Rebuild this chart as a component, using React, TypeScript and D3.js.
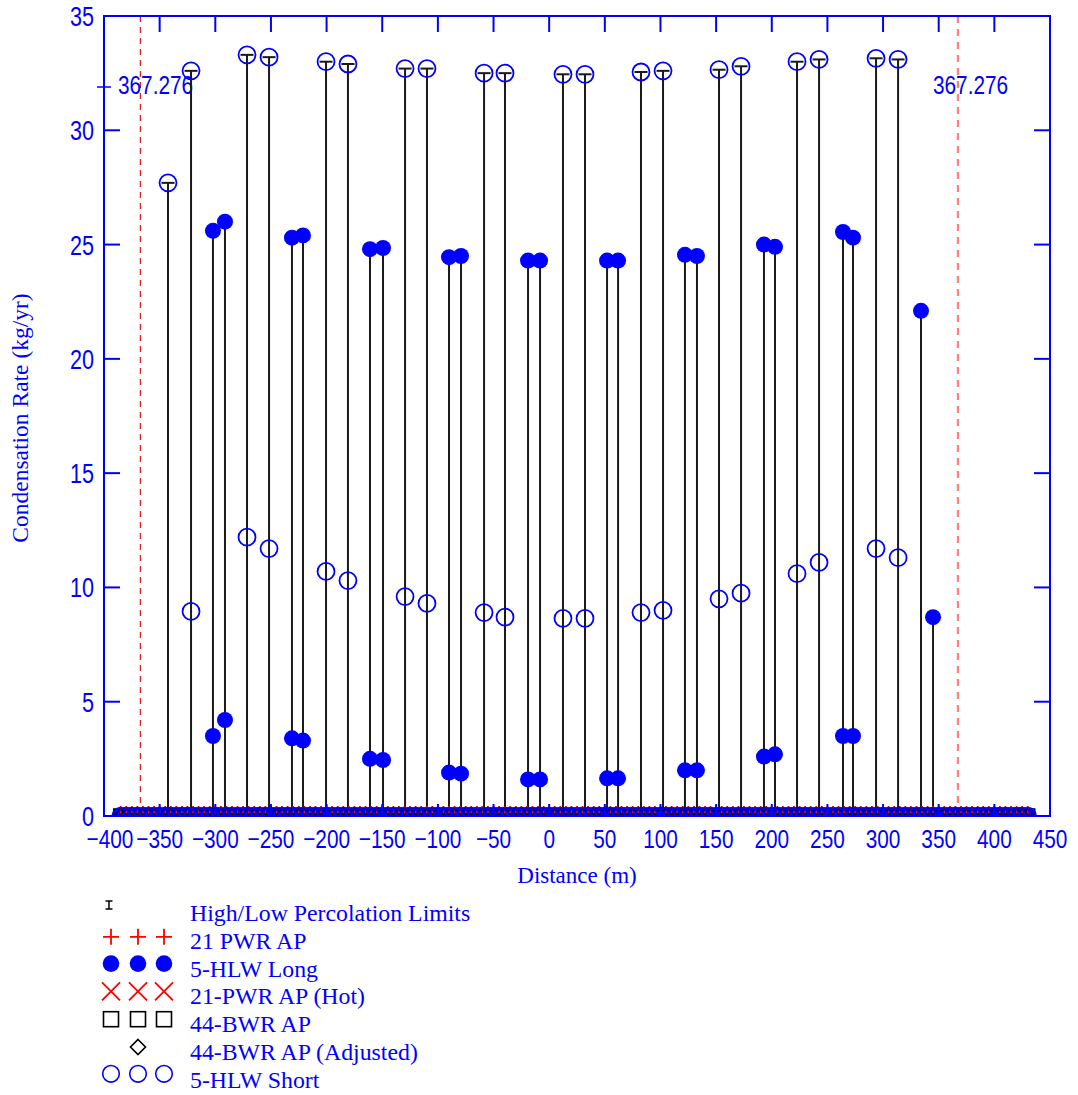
import React from "react";
import * as d3 from "d3";

// ---------- data ----------
const X_TICKS = [-400, -350, -300, -250, -200, -150, -100, -50, 0, 50, 100, 150, 200, 250, 300, 350, 400, 450];
const Y_TICKS = [0, 5, 10, 15, 20, 25, 30, 35];

// 5-HLW Short locations: high percolation limit (top circle) and short value
const shortDist = [-342.5, -321.8, -271.5, -251.7, -200.5, -180.8, -129.5, -109.8, -58.5, -39.7, 12.4, 32.2, 82.5, 102.3, 152.6, 172.4, 222.7, 242.5, 293.7, 313.5];
const shortHigh = [27.7, 32.6, 33.3, 33.2, 33.0, 32.9, 32.7, 32.7, 32.5, 32.5, 32.45, 32.45, 32.55, 32.6, 32.65, 32.8, 33.0, 33.1, 33.15, 33.1];
const shortLow: (number | null)[] = [null, 8.95, 12.2, 11.7, 10.7, 10.3, 9.6, 9.3, 8.9, 8.7, 8.65, 8.65, 8.9, 9.0, 9.5, 9.75, 10.6, 11.1, 11.7, 11.3];

// 5-HLW Long locations
const longDist = [-302.1, -291.3, -231.1, -221.2, -161.0, -149.3, -90.0, -79.2, -19.0, -8.2, 52.0, 61.9, 122.0, 132.8, 193.0, 202.9, 264.0, 273.0, 334.1, 344.9];
const longHigh = [25.6, 26.0, 25.3, 25.4, 24.8, 24.85, 24.45, 24.5, 24.3, 24.3, 24.3, 24.3, 24.55, 24.5, 25.0, 24.9, 25.55, 25.3, 22.1, 8.7];
const longLow: (number | null)[] = [3.5, 4.2, 3.4, 3.3, 2.5, 2.45, 1.9, 1.85, 1.6, 1.6, 1.65, 1.65, 2.0, 2.0, 2.6, 2.7, 3.5, 3.5, null, null];

// zero-valued baseline points (all AP series)
const baseDist = [-385, -380, -375, -370, -365, -360, -355, -350, -345, -340, -335, -330, -325, -320, -315, -310, -305, -300, -295, -290, -285, -280, -275, -270, -265, -260, -255, -250, -245, -240, -235, -230, -225, -220, -215, -210, -205, -200, -195, -190, -185, -180, -175, -170, -165, -160, -155, -150, -145, -140, -135, -130, -125, -120, -115, -110, -105, -100, -95, -90, -85, -80, -75, -70, -65, -60, -55, -50, -45, -40, -35, -30, -25, -20, -15, -10, -5, 0, 5, 10, 15, 20, 25, 30, 35, 40, 45, 50, 55, 60, 65, 70, 75, 80, 85, 90, 95, 100, 105, 110, 115, 120, 125, 130, 135, 140, 145, 150, 155, 160, 165, 170, 175, 180, 185, 190, 195, 200, 205, 210, 215, 220, 225, 230, 235, 240, 245, 250, 255, 260, 265, 270, 275, 280, 285, 290, 295, 300, 305, 310, 315, 320, 325, 330, 335, 340, 345, 350, 355, 360, 365, 370, 375, 380, 385, 390, 395, 400, 405, 410, 415, 420, 425, 430];

const BOUND = 367.276;

const legendItems = [
  "High/Low Percolation Limits",
  "21 PWR AP",
  "5-HLW Long",
  "21-PWR AP (Hot)",
  "44-BWR AP",
  "44-BWR AP (Adjusted)",
  "5-HLW Short",
];

// ---------- layout ----------
const W = 1078, H = 1095;
const PL = 104, PR = 1050, PT = 16, PB = 816;
const BLUE = "#0000ff";
const RED = "#ff0000";
const SANS = "'Liberation Sans', Arial, sans-serif";
const SERIF = "'Liberation Serif', 'Times New Roman', serif";
const NARROW = 0.8;

const x = d3.scaleLinear().domain([-400, 450]).range([PL, PR]);
const y = d3.scaleLinear().domain([0, 35]).range([PB, PT]);

const plus = (cx: number, cy: number, h: number) => `M${cx - h},${cy}H${cx + h}M${cx},${cy - h}V${cy + h}`;
const cross = (cx: number, cy: number, h: number) => `M${cx - h},${cy - h}L${cx + h},${cy + h}M${cx - h},${cy + h}L${cx + h},${cy - h}`;
const diamond = (cx: number, cy: number, h: number) => `M${cx},${cy - h}L${cx + h},${cy}L${cx},${cy + h}L${cx - h},${cy}Z`;

function NText(props: { x: number; y: number; anchor?: string; size?: number; children: React.ReactNode }) {
  return (
    <text
      transform={`translate(${props.x},${props.y}) scale(${NARROW},1)`}
      textAnchor={props.anchor || "start"}
      fill={BLUE}
      fontFamily={SANS}
      fontSize={props.size || 26}
    >
      {props.children}
    </text>
  );
}

export default function App() {
  const TICK = 16;
  const stems = [
    ...shortDist.map((d, i) => ({ d, hi: shortHigh[i] })),
    ...longDist.map((d, i) => ({ d, hi: longHigh[i] })),
  ];
  const legendBase = (i: number) => 921 + i * 27.8;
  const symX = [111, 138, 164];

  return (
    <svg width={W} height={H} style={{ position: "absolute", left: 0, top: 0, background: "#fff" }}>
      <defs>
        <clipPath id="plotclip">
          <rect x={PL} y={PT} width={PR - PL} height={PB - PT} />
        </clipPath>
      </defs>

      {/* boundary dashed lines */}
      <line x1={x(-BOUND)} x2={x(-BOUND)} y1={PT} y2={PB} stroke="#e02020" strokeWidth={1.3} strokeDasharray="6,5" />
      <line x1={x(BOUND)} x2={x(BOUND)} y1={PT} y2={PB} stroke="#ff8080" strokeWidth={2.2} strokeDasharray="7,6" />
      <NText x={118} y={94}>367.276</NText>
      <NText x={933} y={94}>367.276</NText>
      <line x1={97} x2={111} y1={87} y2={87} stroke={BLUE} strokeWidth={1.5} />

      {/* stems (percolation limits) */}
      <g stroke="#1a1a1a" strokeWidth={2}>
        {stems.map((s, i) => (
          <g key={i}>
            <line x1={x(s.d)} x2={x(s.d)} y1={y(0)} y2={y(s.hi)} />
            <line x1={x(s.d) - 6.5} x2={x(s.d) + 6.5} y1={y(s.hi)} y2={y(s.hi)} />
          </g>
        ))}
      </g>

      {/* 5-HLW Short circles */}
      <g fill="none" stroke={BLUE} strokeWidth={1.8}>
        {shortDist.map((d, i) => (
          <circle key={"sh" + i} cx={x(d)} cy={y(shortHigh[i])} r={8.5} />
        ))}
        {shortDist.map((d, i) =>
          shortLow[i] == null ? null : <circle key={"sl" + i} cx={x(d)} cy={y(shortLow[i] as number)} r={8.5} />
        )}
      </g>

      {/* 5-HLW Long filled circles */}
      <g fill={BLUE}>
        {longDist.map((d, i) => (
          <circle key={"lh" + i} cx={x(d)} cy={y(longHigh[i])} r={8} />
        ))}
        {longDist.map((d, i) =>
          longLow[i] == null ? null : <circle key={"ll" + i} cx={x(d)} cy={y(longLow[i] as number)} r={8} />
        )}
      </g>

      {/* baseline zero markers, clipped */}
      <g clipPath="url(#plotclip)">
        <g stroke={RED} strokeWidth={1.5} fill="none">
          {baseDist.map((d, i) => <path key={"x" + i} d={cross(x(d), y(0), 7)} />)}
        </g>
        <g stroke="#000" strokeWidth={1.5} fill="none">
          {baseDist.map((d, i) => <rect key={"sq" + i} x={x(d) - 7} y={y(0) - 7} width={14} height={14} />)}
        </g>
        <g fill={BLUE}>
          {baseDist.map((d, i) => <circle key={"fc" + i} cx={x(d)} cy={y(0)} r={8} />)}
        </g>
        <g stroke={RED} strokeWidth={1.8}>
          {baseDist.map((d, i) => <path key={"p" + i} d={plus(x(d), y(0), 10)} />)}
        </g>
        <g stroke="#000" strokeWidth={1.3} fill="none">
          {baseDist.map((d, i) => <path key={"dm" + i} d={diamond(x(d), y(0), 7)} />)}
        </g>
        <g stroke={BLUE} strokeWidth={1.5} fill="none">
          {baseDist.map((d, i) => <circle key={"oc" + i} cx={x(d)} cy={y(0)} r={8.5} />)}
        </g>
      </g>

      {/* frame and ticks */}
      <rect x={PL} y={PT} width={PR - PL} height={PB - PT} fill="none" stroke={BLUE} strokeWidth={2} />
      <g stroke={BLUE} strokeWidth={2}>
        {X_TICKS.map((t) => (
          <g key={"xt" + t}>
            <line x1={x(t)} x2={x(t)} y1={PB} y2={PB - TICK + 4} />
            <line x1={x(t)} x2={x(t)} y1={PT} y2={PT + TICK} />
          </g>
        ))}
        {Y_TICKS.map((t) => (
          <g key={"yt" + t}>
            <line x1={PL} x2={PL + TICK} y1={y(t)} y2={y(t)} />
            <line x1={PR} x2={PR - TICK} y1={y(t)} y2={y(t)} />
          </g>
        ))}
      </g>
      {X_TICKS.map((t) => (
        <NText key={"xl" + t} x={x(t) + (t === -400 ? 6 : 0)} y={848} anchor="middle">
          {t < 0 ? "\u2212" + Math.abs(t) : String(t)}
        </NText>
      ))}
      {Y_TICKS.map((t) => (
        <NText key={"yl" + t} x={94} y={y(t) + 10} anchor="end" size={27}>
          {t}
        </NText>
      ))}

      {/* axis titles */}
      <text x={577} y={883} textAnchor="middle" fill={BLUE} fontFamily={SERIF} fontSize={23}>Distance (m)</text>
      <text transform="translate(28,418) rotate(-90)" textAnchor="middle" fill={BLUE} fontFamily={SERIF} fontSize={23.5}>
        Condensation Rate (kg/yr)
      </text>

      {/* legend */}
      <g>
        <g stroke="#000" strokeWidth={1.5}>
          <line x1={109} x2={109} y1={901} y2={909} />
          <line x1={105.5} x2={112.5} y1={901} y2={901} />
          <line x1={105.5} x2={112.5} y1={909} y2={909} />
        </g>
        <g stroke={RED} strokeWidth={1.8}>
          {symX.map((sx) => <path key={"lp" + sx} d={plus(sx, legendBase(1) - 12, 8)} />)}
        </g>
        <g fill={BLUE}>
          {symX.map((sx) => <circle key={"lf" + sx} cx={sx} cy={legendBase(2) - 13} r={8.3} />)}
        </g>
        <g stroke={RED} strokeWidth={1.8}>
          {symX.map((sx) => <path key={"lx" + sx} d={cross(sx, legendBase(3) - 13, 9)} />)}
        </g>
        <g stroke="#000" strokeWidth={1.6} fill="none">
          {symX.map((sx) => <rect key={"ls" + sx} x={sx - 7.5} y={legendBase(4) - 13 - 7.5} width={15} height={15} />)}
        </g>
        <path d={diamond(138, legendBase(5) - 13, 7.5)} stroke="#000" strokeWidth={1.6} fill="none" />
        <g stroke={BLUE} strokeWidth={1.6} fill="none">
          {symX.map((sx) => <circle key={"lo" + sx} cx={sx} cy={legendBase(6) - 14} r={8.3} />)}
        </g>
        <g fill={BLUE} fontFamily={SERIF} fontSize={23.8}>
          {legendItems.map((t, i) => (
            <text key={t} x={190} y={legendBase(i)}>{t}</text>
          ))}
        </g>
      </g>
    </svg>
  );
}
